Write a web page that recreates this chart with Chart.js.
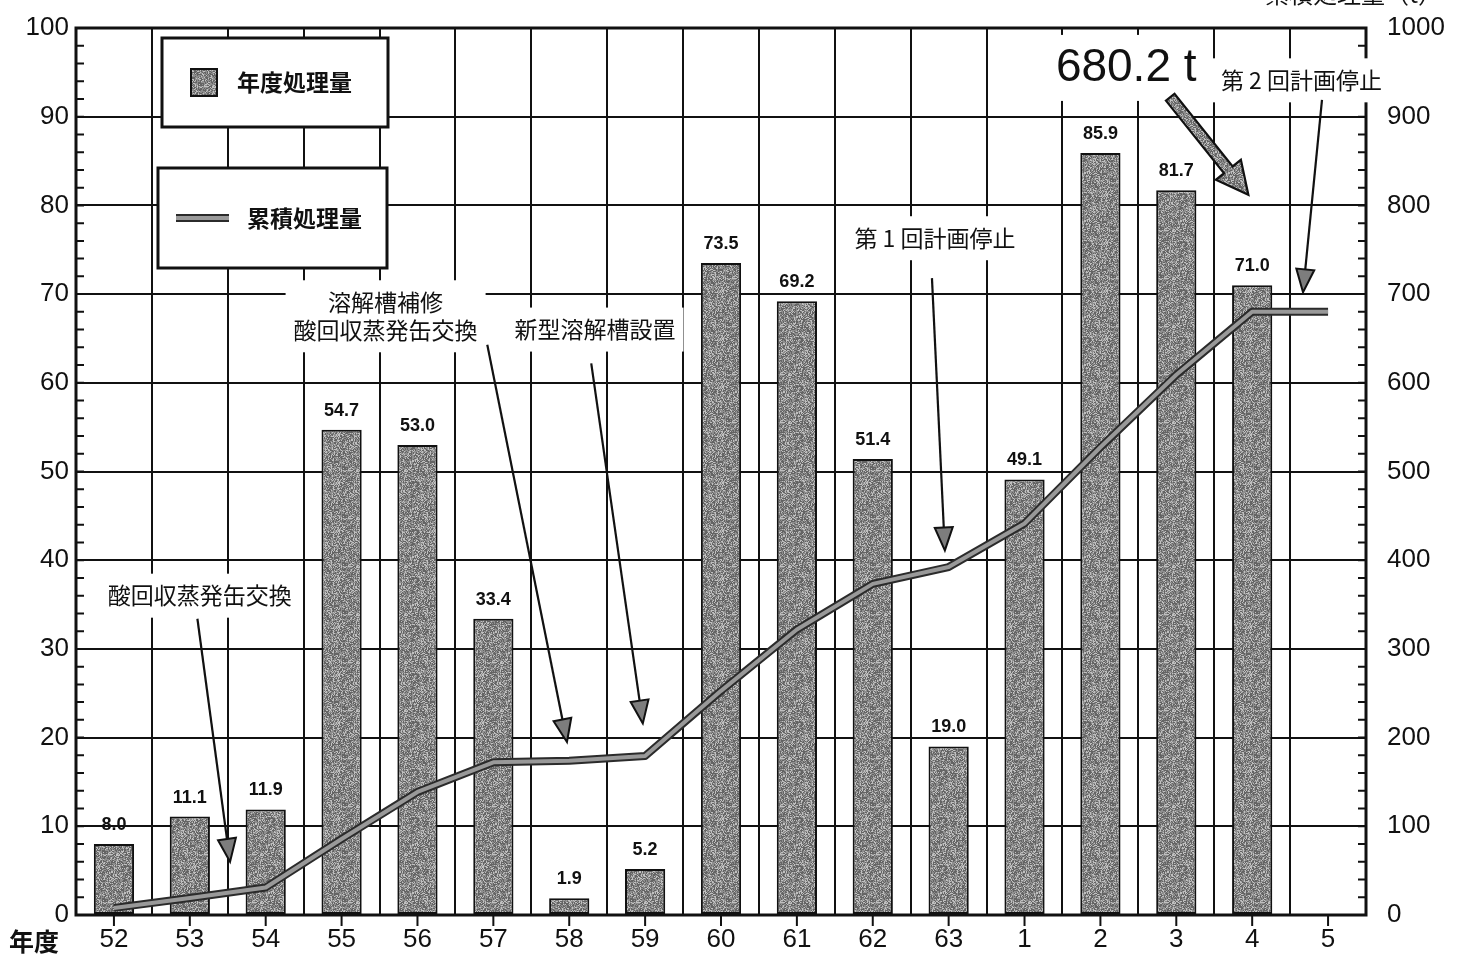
<!DOCTYPE html>
<html lang="ja">
<head>
<meta charset="utf-8">
<title>年度処理量・累積処理量</title>
<script src="https://cdn.jsdelivr.net/npm/chart.js@4.4.1/dist/chart.umd.min.js"></script>
<style>
  html, body { margin: 0; padding: 0; background: #fff; }
  #wrap { width: 1457px; height: 961px; }
  canvas { display: block; }
</style>
</head>
<body>
<div id="wrap"><canvas id="chart" width="1457" height="961"></canvas></div>
<script>
// 年度（昭和52〜63、平成1〜5）
const years = ['52', '53', '54', '55', '56', '57', '58', '59', '60', '61', '62', '63', '1', '2', '3', '4', '5'];
// 年度処理量（t）
const annual = [8.0, 11.1, 11.9, 54.7, 53.0, 33.4, 1.9, 5.2, 73.5, 69.2, 51.4, 19.0, 49.1, 85.9, 81.7, 71.0, null];
// 累積処理量（t）
const cumulative = [8.0, 19.1, 31.0, 85.7, 138.7, 172.1, 174.0, 179.2, 252.7, 321.9, 373.3, 392.3, 441.4, 527.3, 609.0, 680.2, 680.2];
// 目盛
const leftTicks = [0, 10, 20, 30, 40, 50, 60, 70, 80, 90, 100];
const rightTicks = [0, 100, 200, 300, 400, 500, 600, 700, 800, 900, 1000];

// 注記：位置は [年度の位置, 左軸の値]
const notes = [
  { text: ['酸回収蒸発缶交換'], at: [1.13, 36.0], tail: [1.10, 33.4], head: [1.53, 6.0] },
  { text: ['溶解槽補修', '酸回収蒸発缶交換'], at: [3.58, 67.5], tail: [4.92, 64.3], head: [5.97, 19.5] },
  { text: ['新型溶解槽設置'], at: [6.34, 66.0], tail: [6.29, 62.2], head: [6.97, 21.6] },
  { text: ['第 1 回計画停止'], at: [10.82, 76.3], tail: [10.78, 71.8], head: [10.95, 41.1] },
  { text: ['第 2 回計画停止'], at: [15.65, 94.1], tail: [15.92, 91.9], head: [15.67, 70.2] }
];
const totalNote = { at: [13.34, 95.5], tail: [13.92, 92.2], head: [14.95, 81.2] };

const INK = '#111';
const NUM_FONT = '"Liberation Sans", Arial, Helvetica, sans-serif';
const JP_FONT = '"Noto Sans CJK JP", "Noto Sans", sans-serif';

// 網掛け風のテクスチャ（決まった並びのハッシュで作る）
function makeTexture() {
  const size = 48;
  const c = document.createElement('canvas');
  c.width = c.height = size;
  const g = c.getContext('2d');
  const img = g.createImageData(size, size);
  for (let j = 0; j < size; j++) {
    for (let i = 0; i < size; i++) {
      let n = Math.imul(i + 17, 374761393) + Math.imul(j + 31, 668265263);
      n = Math.imul(n ^ (n >>> 13), 1274126177);
      n = (n ^ (n >>> 16)) >>> 0;
      const t = n / 4294967296;
      const v = t < 0.42 ? 100 : (t < 0.78 ? 142 : 192);
      const k = (j * size + i) * 4;
      img.data[k] = img.data[k + 1] = img.data[k + 2] = v;
      img.data[k + 3] = 255;
    }
  }
  g.putImageData(img, 0, 0);
  return c;
}
const textureCanvas = makeTexture();
const ctx0 = document.getElementById('chart').getContext('2d');
const barFill = ctx0.createPattern(textureCanvas, 'repeat');

function px(chart, p) {
  return [chart.scales.x.getPixelForValue(p[0]), chart.scales.y.getPixelForValue(p[1])];
}

function thinArrow(ctx, a, b) {
  const ang = Math.atan2(b[1] - a[1], b[0] - a[0]);
  const hl = 23, hw = 18;
  const bx = b[0] - hl * Math.cos(ang), by = b[1] - hl * Math.sin(ang);
  ctx.beginPath();
  ctx.moveTo(a[0], a[1]);
  ctx.lineTo(bx, by);
  ctx.lineWidth = 2.2;
  ctx.strokeStyle = INK;
  ctx.stroke();
  const ox = -Math.sin(ang) * hw / 2, oy = Math.cos(ang) * hw / 2;
  ctx.beginPath();
  ctx.moveTo(b[0], b[1]);
  ctx.lineTo(bx + ox, by + oy);
  ctx.lineTo(bx - ox, by - oy);
  ctx.closePath();
  ctx.fillStyle = '#7d7d7d';
  ctx.fill();
  ctx.lineWidth = 2;
  ctx.stroke();
}

function thickArrow(ctx, a, b) {
  const ang = Math.atan2(b[1] - a[1], b[0] - a[0]);
  const hl = 32, hw = 32, sw = 11;
  const bx = b[0] - hl * Math.cos(ang), by = b[1] - hl * Math.sin(ang);
  const nx = -Math.sin(ang), ny = Math.cos(ang);
  ctx.beginPath();
  ctx.moveTo(a[0] + nx * sw / 2, a[1] + ny * sw / 2);
  ctx.lineTo(bx + nx * sw / 2, by + ny * sw / 2);
  ctx.lineTo(bx + nx * hw / 2, by + ny * hw / 2);
  ctx.lineTo(b[0], b[1]);
  ctx.lineTo(bx - nx * hw / 2, by - ny * hw / 2);
  ctx.lineTo(bx - nx * sw / 2, by - ny * sw / 2);
  ctx.lineTo(a[0] - nx * sw / 2, a[1] - ny * sw / 2);
  ctx.closePath();
  ctx.fillStyle = barFill;
  ctx.fill();
  ctx.lineWidth = 2.2;
  ctx.strokeStyle = INK;
  ctx.stroke();
}

function paperText(ctx, lines, cx, cy, font, lineH) {
  ctx.font = font;
  const w = Math.max(...lines.map(s => ctx.measureText(s).width));
  const h = lines.length * lineH;
  ctx.fillStyle = '#fff';
  ctx.fillRect(cx - w / 2 - 8, cy - h / 2 - 8, w + 16, h + 16);
  ctx.fillStyle = INK;
  ctx.textAlign = 'center';
  ctx.textBaseline = 'middle';
  lines.forEach((s, i) => ctx.fillText(s, cx, cy - h / 2 + lineH * (i + 0.5)));
}

const framePlugin = {
  id: 'frame',
  beforeDatasetsDraw(chart) {
    const { ctx, chartArea: a } = chart;
    const y = chart.scales.y, y2 = chart.scales.y2, x = chart.scales.x;
    ctx.save();
    ctx.strokeStyle = INK;
    // 内向きの補助目盛
    ctx.lineWidth = 2;
    ctx.beginPath();
    for (let v = 0; v <= 100; v += 2) {
      const p = y.getPixelForValue(v);
      ctx.moveTo(a.left, p); ctx.lineTo(a.left + 8, p);
    }
    for (let v = 0; v <= 1000; v += 20) {
      const p = y2.getPixelForValue(v);
      ctx.moveTo(a.right, p); ctx.lineTo(a.right - 8, p);
    }
    // 年度の目盛
    years.forEach((_, i) => {
      const p = x.getPixelForValue(i);
      ctx.moveTo(p, a.bottom); ctx.lineTo(p, a.bottom + 11);
    });
    ctx.stroke();
    // 枠
    ctx.lineWidth = 3;
    ctx.strokeRect(a.left, a.top, a.right - a.left, a.bottom - a.top);
    // 軸名
    ctx.fillStyle = INK;
    ctx.font = 'bold 25px ' + JP_FONT;
    ctx.textAlign = 'left';
    ctx.textBaseline = 'middle';
    ctx.fillText('年度', 9, 941);
    ctx.font = '24px ' + JP_FONT;
    ctx.textAlign = 'right';
    ctx.textBaseline = 'alphabetic';
    ctx.fillText('累積処理量（t）', 1442, 3);
    ctx.restore();
  },
  afterDatasetsDraw(chart) {
    const { ctx } = chart;
    ctx.save();
    // 棒の値
    const meta = chart.getDatasetMeta(0);
    ctx.fillStyle = INK;
    ctx.font = 'bold 18px ' + NUM_FONT;
    ctx.textAlign = 'center';
    ctx.textBaseline = 'alphabetic';
    meta.data.forEach((bar, i) => {
      if (annual[i] == null) return;
      ctx.fillText(annual[i].toFixed(1), bar.x, bar.y - 14);
    });

    // 凡例
    ctx.lineWidth = 3;
    ctx.strokeStyle = INK;
    ctx.fillStyle = '#fff';
    ctx.fillRect(162, 38, 226, 89);
    ctx.strokeRect(162, 38, 226, 89);
    ctx.fillRect(158, 168, 229, 100);
    ctx.strokeRect(158, 168, 229, 100);
    ctx.fillStyle = barFill;
    ctx.fillRect(191, 69, 26, 27);
    ctx.lineWidth = 2;
    ctx.strokeRect(191, 69, 26, 27);
    ctx.beginPath();
    ctx.moveTo(176, 218); ctx.lineTo(229, 218);
    ctx.lineWidth = 8; ctx.strokeStyle = '#2b2b2b'; ctx.stroke();
    ctx.lineWidth = 4; ctx.strokeStyle = '#9a9a9a'; ctx.stroke();
    ctx.fillStyle = INK;
    ctx.font = 'bold 23px ' + JP_FONT;
    ctx.textAlign = 'left';
    ctx.textBaseline = 'middle';
    ctx.fillText('年度処理量', 237, 82);
    ctx.fillText('累積処理量', 247, 218);

    // 注記と矢印
    notes.forEach(n => {
      const c = px(chart, n.at);
      paperText(ctx, n.text, c[0], c[1], '23px ' + JP_FONT, 28);
    });
    notes.forEach(n => thinArrow(ctx, px(chart, n.tail), px(chart, n.head)));

    const tc = px(chart, totalNote.at);
    paperText(ctx, [cumulative[15].toFixed(1) + ' t'], tc[0], tc[1], '46px ' + NUM_FONT, 50);
    thickArrow(ctx, px(chart, totalNote.tail), px(chart, totalNote.head));
    ctx.restore();
  }
};

Chart.defaults.font.family = NUM_FONT;
Chart.defaults.color = INK;

new Chart(ctx0, {
  data: {
    labels: years,
    datasets: [
      {
        type: 'bar',
        label: '年度処理量',
        data: annual,
        yAxisID: 'y',
        backgroundColor: barFill,
        borderColor: INK,
        borderWidth: 2,
        borderSkipped: false,
        barPercentage: 0.53,
        categoryPercentage: 1.0,
        order: 2
      },
      {
        type: 'line',
        label: '累積処理量',
        data: cumulative,
        yAxisID: 'y2',
        borderColor: '#2b2b2b',
        borderWidth: 8,
        pointRadius: 0,
        tension: 0,
        borderJoinStyle: 'round',
        borderCapStyle: 'butt',
        order: 1
      },
      {
        type: 'line',
        label: '累積処理量',
        data: cumulative,
        yAxisID: 'y2',
        borderColor: '#999',
        borderWidth: 4,
        pointRadius: 0,
        tension: 0,
        borderJoinStyle: 'round',
        order: 0
      }
    ]
  },
  options: {
    responsive: false,
    animation: false,
    devicePixelRatio: 1,
    layout: { padding: { top: 28, left: 0, right: 0, bottom: 0 } },
    plugins: { legend: { display: false }, tooltip: { enabled: false } },
    scales: {
      x: {
        type: 'category',
        offset: true,
        grid: { offset: true, color: INK, lineWidth: 2, drawTicks: false },
        border: { display: false },
        ticks: { font: { size: 26 }, color: INK, padding: 9, maxRotation: 0, autoSkip: false },
        afterFit: s => { s.height = 46; }
      },
      y: {
        position: 'left',
        min: 0,
        max: 100,
        afterBuildTicks: s => { s.ticks = leftTicks.map(v => ({ value: v })); },
        grid: { color: INK, lineWidth: 2, drawTicks: false },
        border: { display: false },
        ticks: { font: { size: 26 }, color: INK, padding: 7, callback: v => String(v) },
        afterFit: s => { s.width = 76; }
      },
      y2: {
        position: 'right',
        min: 0,
        max: 1000,
        afterBuildTicks: s => { s.ticks = rightTicks.map(v => ({ value: v })); },
        grid: { drawOnChartArea: false, drawTicks: false },
        border: { display: false },
        ticks: { font: { size: 26 }, color: INK, padding: 8, callback: v => '\u2002' + String(v) },
        afterFit: s => { s.width = 91; }
      }
    }
  },
  plugins: [framePlugin]
});
</script>
</body>
</html>
